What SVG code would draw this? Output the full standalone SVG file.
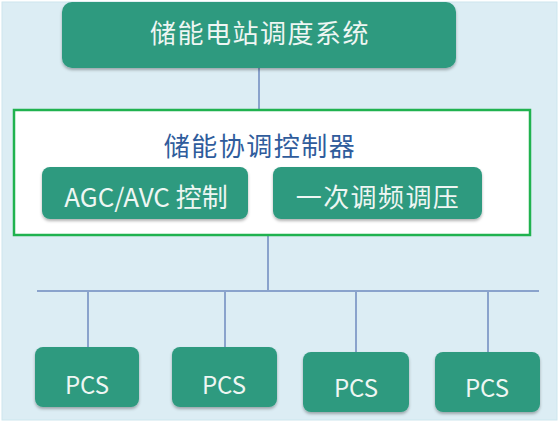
<svg xmlns="http://www.w3.org/2000/svg" width="560" height="426" viewBox="0 0 560 426">
<defs>
<filter id="sh" x="-10%" y="-10%" width="120%" height="130%">
<feDropShadow dx="0" dy="2" stdDeviation="1.5" flood-color="#000" flood-opacity="0.3"/>
</filter>
<style>
.box{fill:#2e9a7f;filter:url(#sh)}
.t{font-family:"Noto Sans CJK SC","Noto Sans",sans-serif;fill:#eef6f3;text-anchor:middle}
.cn{fill:none;stroke:#8aa3cc;stroke-width:2}
</style>
</defs>
<rect x="0" y="0" width="560" height="426" fill="#ffffff"/>
<rect x="2" y="2" width="555" height="418" fill="#dcedf4" stroke="#cde6ee" stroke-width="1"/>
<g id="connectors">
<line class="cn" x1="259" y1="68" x2="259" y2="110"/>
<line class="cn" x1="268" y1="235" x2="268" y2="291"/>
<line class="cn" x1="37" y1="291" x2="539" y2="291"/>
<line class="cn" x1="88" y1="291" x2="88" y2="347"/>
<line class="cn" x1="225" y1="291" x2="225" y2="347"/>
<line class="cn" x1="356" y1="291" x2="356" y2="352"/>
<line class="cn" x1="488" y1="291" x2="488" y2="352"/>
</g>
<g id="dispatch">
<rect class="box" x="62" y="2" width="394" height="66" rx="10"/>
<text class="t" x="260" y="43" font-size="26" letter-spacing="1.5">储能电站调度系统</text>
</g>
<g id="controller">
<rect x="14" y="110" width="516" height="125" fill="#ffffff" stroke="#20b24f" stroke-width="2.5"/>
<text x="260" y="156" font-family="&quot;Noto Sans CJK SC&quot;,&quot;Noto Sans&quot;,sans-serif" font-size="26" letter-spacing="1.5" fill="#2f5c9c" text-anchor="middle">储能协调控制器</text>
</g>
<g id="agc">
<rect class="box" x="42" y="167" width="206" height="52" rx="8"/>
<text class="t" x="146" y="207" font-size="26">AGC/AVC 控制</text>
</g>
<g id="freq">
<rect class="box" x="273" y="167" width="209" height="52" rx="8"/>
<text class="t" x="378" y="207" font-size="26" letter-spacing="1.4">一次调频调压</text>
</g>
<g id="pcs1">
<rect class="box" x="35" y="347" width="104" height="60" rx="8"/>
<text class="t" x="87" y="394" font-size="24">PCS</text>
</g>
<g id="pcs2">
<rect class="box" x="172" y="347" width="105" height="60" rx="8"/>
<text class="t" x="224" y="394" font-size="24">PCS</text>
</g>
<g id="pcs3">
<rect class="box" x="303" y="352" width="106" height="60" rx="8"/>
<text class="t" x="356" y="397" font-size="24">PCS</text>
</g>
<g id="pcs4">
<rect class="box" x="435" y="352" width="105" height="60" rx="8"/>
<text class="t" x="487" y="397" font-size="24">PCS</text>
</g>
</svg>
